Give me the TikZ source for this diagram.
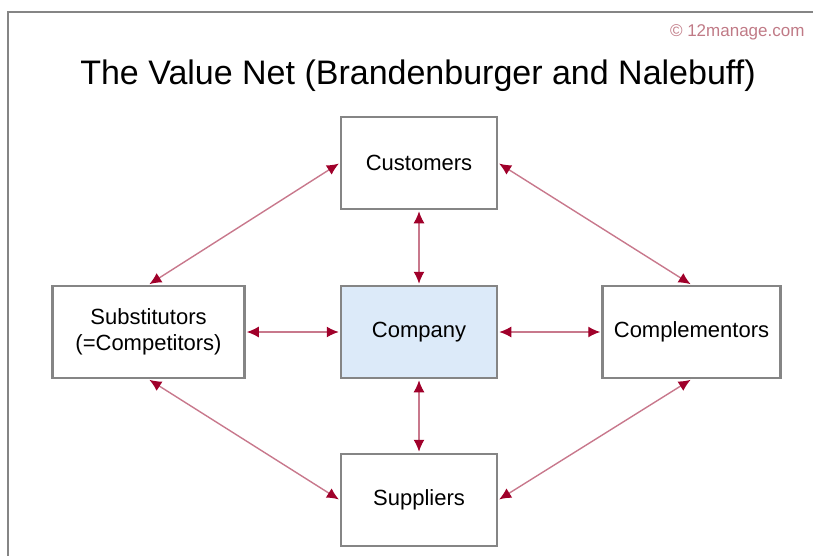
\documentclass[tikz,border=0pt]{standalone}
\usepackage{fontspec}
\setmainfont{Liberation Sans}
\usetikzlibrary{arrows.meta}
\definecolor{boxline}{HTML}{858585}
\definecolor{arrowdark}{HTML}{A0002A}
\definecolor{arrowlight}{HTML}{C8788C}
\definecolor{compfill}{HTML}{DCEAF9}
\definecolor{copyc}{HTML}{C07A86}
\tikzset{
  box/.style={draw=boxline, line width=2.5pt, fill=white, minimum width=156pt, minimum height=92pt, inner sep=0pt, align=center, font=\fontsize{22}{26}\selectfont},
  link/.style={draw=arrowlight, line width=1.4pt, {Latex[length=12pt,width=11pt,color=arrowdark]}-{Latex[length=12pt,width=11pt,color=arrowdark]}, shorten <=1pt, shorten >=1pt}
}
\begin{document}
\begin{tikzpicture}[x=1pt,y=-1pt]
\useasboundingbox (0,0) rectangle (813,556);
\draw[boxline, line width=2.5pt] (8,558) -- (8,12) -- (815,12);
\node[text=copyc, font=\fontsize{17}{19}\selectfont, anchor=east] (copy) at (808,32) {© 12manage.com};
\node[font=\fontsize{34}{38}\selectfont] (title) at (418,76) {The Value Net (Brandenburger and Nalebuff)};
\node[box] (cust) at (419,163) {Customers};
\node[box, minimum width=192pt] (subs) at (148.5,332) {Substitutors\\(=Competitors)};
\node[box, fill=compfill] (comp) at (419,332) {Company};
\node[box, minimum width=178pt] (cmpl) at (691.5,332) {Complementors};
\node[box] (supp) at (419,500) {Suppliers};
\draw[link] (cust.west) -- (subs.north);
\draw[link] (cust.east) -- (cmpl.north);
\draw[link] (subs.south) -- (supp.west);
\draw[link] (cmpl.south) -- (supp.east);
\draw[link] (cust.south) -- (comp.north);
\draw[link] (comp.south) -- (supp.north);
\draw[link] (subs.east) -- (comp.west);
\draw[link] (comp.east) -- (cmpl.west);
\end{tikzpicture}
\end{document}
